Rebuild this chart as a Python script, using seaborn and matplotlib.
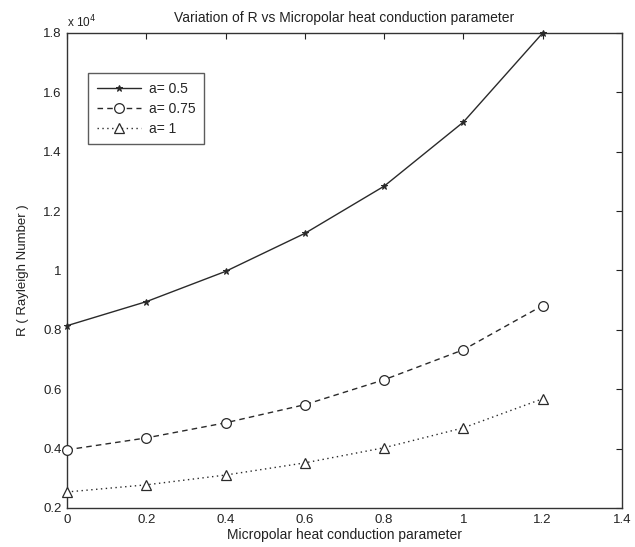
import numpy as np
import pandas as pd
import matplotlib
matplotlib.use('Agg')
import matplotlib.pyplot as plt
import seaborn as sns
from matplotlib.ticker import FuncFormatter

# Micropolar heat conduction parameter
param = [0, 0.2, 0.4, 0.6, 0.8, 1.0, 1.2]
# Rayleigh number for each value of a
r_a05 = [8140, 8950, 9970, 11250, 12840, 15000, 18000]
r_a075 = [3960, 4360, 4870, 5480, 6320, 7330, 8820]
r_a1 = [2540, 2780, 3110, 3520, 4030, 4700, 5680]
labels = ['a= 0.5', 'a= 0.75', 'a= 1']

sns.set_style('white')
plt.rcParams['font.family'] = ['Liberation Sans', 'DejaVu Sans']

fig = plt.figure(figsize=(6.35, 5.47), dpi=100)
ax = fig.add_axes([0.1055, 0.0713, 0.874, 0.8684])

col = '#2a2a2a'
styles = [
    dict(linestyle='-', marker='*', markersize=5, markerfacecolor=col,
         markeredgecolor=col, linewidth=1.0),
    dict(linestyle=(0, (4, 3)), marker='o', markersize=7, markerfacecolor='white',
         markeredgecolor=col, markeredgewidth=0.9, linewidth=1.0),
    dict(linestyle=(0, (1, 2.5)), marker='^', markersize=7, markerfacecolor='white',
         markeredgecolor=col, markeredgewidth=0.9, linewidth=1.0),
]
for vals, lab, st in zip([r_a05, r_a075, r_a1], labels, styles):
    df = pd.DataFrame({'x': param, 'R': vals})
    sns.lineplot(data=df, x='x', y='R', color=col, label=lab, ax=ax,
                 clip_on=False, zorder=3, **st)

ax.set_xlim(0, 1.4)
ax.set_ylim(2000, 18000)
ax.set_xticks(np.arange(0, 1.41, 0.2))
ax.set_yticks(np.arange(2000, 18001, 2000))
ax.xaxis.set_major_formatter(FuncFormatter(lambda v, p: '%g' % round(v, 2)))
ax.yaxis.set_major_formatter(FuncFormatter(lambda v, p: '%g' % round(v / 1e4, 2)))
ax.tick_params(direction='in', length=4, width=0.8, top=True, right=True,
               labelsize=9.5, colors='#222222', pad=4)
for s in ax.spines.values():
    s.set_color('#333333')
    s.set_linewidth(1.0)

ax.text(0.0, 1.005, r'x 10$^4$', transform=ax.transAxes, fontsize=8.5,
        ha='left', va='bottom', color='#222222')
ax.set_title('Variation of R vs Micropolar heat conduction parameter',
             fontsize=10, pad=8, color='#222222')
ax.set_xlabel('Micropolar heat conduction parameter', fontsize=10, labelpad=2,
              color='#222222')
ax.set_ylabel('R ( Rayleigh Number )', fontsize=9.5, labelpad=10, color='#222222')

leg = ax.legend(loc='upper left', bbox_to_anchor=(0.026, 0.93), fontsize=10,
                frameon=True, fancybox=False, handlelength=3.2, borderpad=0.6,
                labelspacing=0.45, handletextpad=0.6)
leg.get_frame().set_edgecolor('#333333')
leg.get_frame().set_linewidth(1.0)

fig.savefig('out.png', dpi=100)
